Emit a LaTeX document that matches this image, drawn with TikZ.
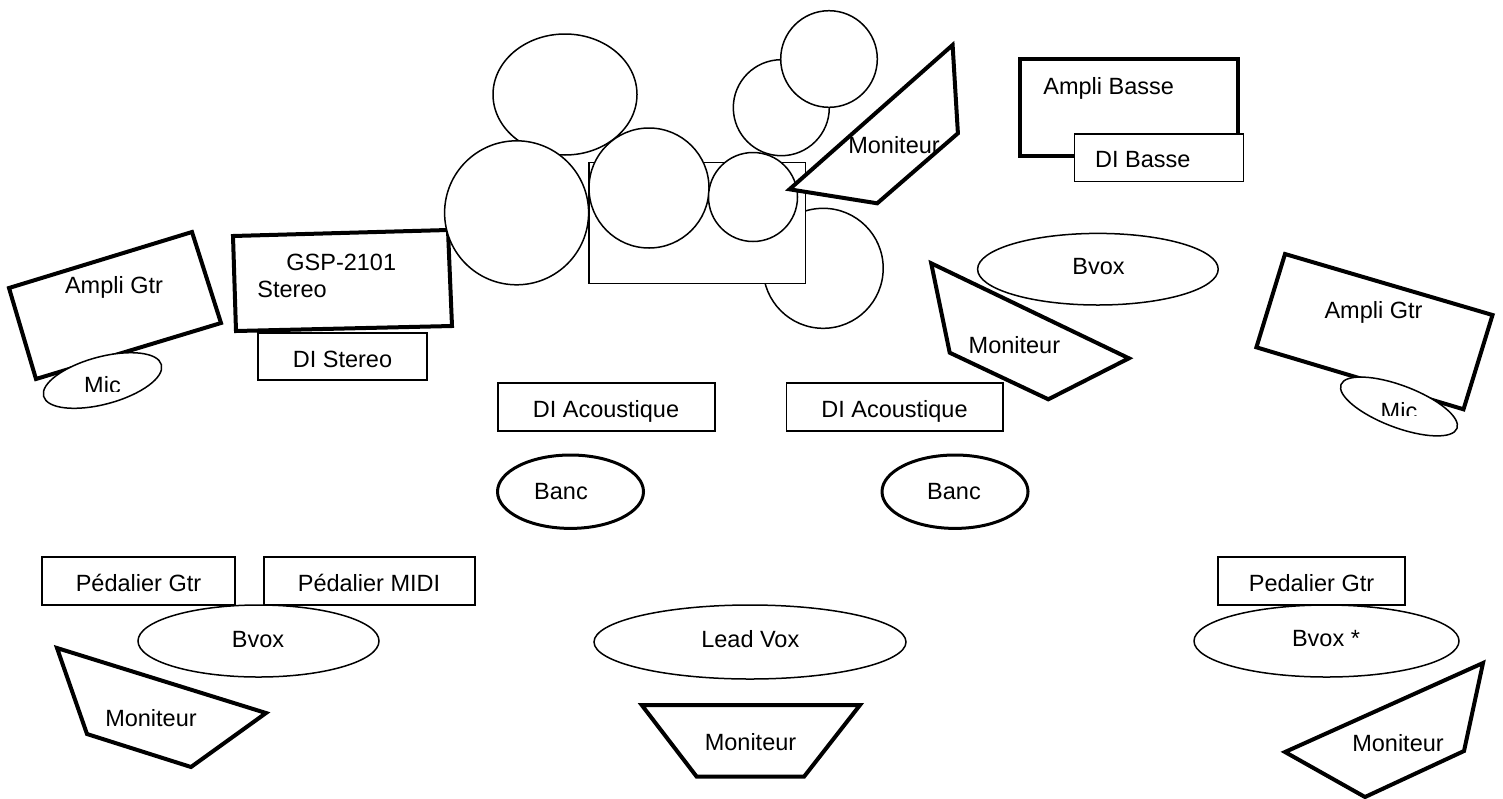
\documentclass[tikz,border=0pt]{standalone}
\usepackage{fontspec}
\setmainfont{Liberation Sans}
\begin{document}
\begin{tikzpicture}[x=0.5pt, y=-0.5pt,
  outline/.style={line width=0.75pt, fill=white},
  heavy/.style={line width=2pt, fill=white, line join=miter},
  lbl/.style={inner sep=0pt, anchor=base, font=\fontsize{11.75}{13.5}\selectfont}]
\useasboundingbox (0,0) rectangle (1503,798);
\coordinate (micL) at (102.5,380.5);
\coordinate (micR) at (1399,406.5);
\draw[heavy] (9,288) -- (192,232) -- (221,323) -- (36,379) -- cycle;
\node[lbl] (ampliL) at (114,293.5) {Ampli Gtr};
\draw[outline, rotate around={15:(micL)}] (micL) ellipse [x radius=61, y radius=23.7];
\begin{scope}
\clip (60,370) rectangle (150,391.7);
\node[lbl] (micLtext) at (102.5,393.5) {Mic};
\end{scope}
\draw[heavy] (233,236) -- (448,230) -- (452,326) -- (236,331) -- cycle;
\node[lbl, anchor=north west, align=left] (gsp) at (257,253.2) {\hspace*{14.5pt}GSP-2101\\Stereo};
\draw[outline] (258,333) rectangle (427,380);
\node[lbl] (distereo) at (342.5,367) {DI Stereo};
\draw[outline] (565,94.5) ellipse [x radius=72, y radius=60.5];
\draw[outline] (781.3,107.7) circle [radius=48];
\draw[outline] (829,59) circle [radius=48.3];
\draw[outline] (823.2,268.3) circle [radius=60];
\draw[outline] (589,162.7) rectangle (805.3,283.3);
\draw[outline] (516.6,212.8) circle [radius=72];
\draw[outline] (649,188) circle [radius=60];
\draw[outline] (753,197) circle [radius=44.5];
\draw[heavy] (952.6,45) -- (957.9,133.3) -- (877.2,203.3) -- (789.5,189.3) -- cycle;
\node[lbl] (montop) at (894,153.5) {Moniteur};
\draw[heavy] (1020.4,59.3) rectangle (1237.8,156);
\node[lbl, anchor=base west] (amplib) at (1043,94.5) {Ampli Basse};
\draw[outline] (1074.3,134) rectangle (1243.4,181.7);
\node[lbl, anchor=base west] (dibasse) at (1094.7,167) {DI Basse};
\draw[outline] (1097.9,269.2) ellipse [x radius=120.3, y radius=35.8];
\node[lbl] (bvoxB) at (1098.5,274.5) {Bvox};
\draw[heavy] (931.2,263.3) -- (1128.9,358.3) -- (1048.3,399.3) -- (949.7,352.7) -- cycle;
\node[lbl] (monB) at (1014.4,353.5) {Moniteur};
\draw[heavy] (1285,254) -- (1492.5,315) -- (1463.5,409.3) -- (1256.4,347.3) -- cycle;
\node[lbl] (ampliR) at (1373.5,318) {Ampli Gtr};
\draw[outline, rotate around={-20.7:(micR)}] (micR) ellipse [x radius=62, y radius=21];
\begin{scope}
\clip (1360,395) rectangle (1440,415.7);
\node[lbl] (micRtext) at (1399,419) {Mic};
\end{scope}
\draw[outline] (497.9,383) rectangle (715,431);
\node[lbl] (diac1) at (606,417) {DI Acoustique};
\draw[outline] (786.4,383) rectangle (1003.2,431);
\node[lbl] (diac2) at (894.5,417) {DI Acoustique};
\draw[outline, line width=1.5pt] (570.5,491.7) ellipse [x radius=73, y radius=36.7];
\node[lbl] (banc1) at (561,499) {Banc};
\draw[outline, line width=1.5pt] (955,491.7) ellipse [x radius=73, y radius=36.7];
\node[lbl] (banc2) at (954,499) {Banc};
\draw[outline] (42,557) rectangle (235,605);
\node[lbl] (pedgtr) at (138.5,591) {Pédalier Gtr};
\draw[outline] (264,557) rectangle (475,605);
\node[lbl] (pedmidi) at (369,591) {Pédalier MIDI};
\draw[outline] (258.5,641) ellipse [x radius=120.5, y radius=36];
\node[lbl] (bvoxL) at (258,647) {Bvox};
\draw[heavy] (57,648) -- (266,713) -- (191,767) -- (87,734) -- cycle;
\node[lbl] (monL) at (151,726) {Moniteur};
\draw[outline] (750,642) ellipse [x radius=156, y radius=37];
\node[lbl] (leadvox) at (750.3,647) {Lead Vox};
\draw[heavy] (641.7,705) -- (860,705) -- (804,776.7) -- (696.7,776.7) -- cycle;
\node[lbl] (monlead) at (750.5,750) {Moniteur};
\draw[outline] (1218,557) rectangle (1405,605);
\node[lbl] (pedgtrR) at (1311.5,591) {Pedalier Gtr};
\draw[outline] (1326.5,641) ellipse [x radius=132.5, y radius=36];
\node[lbl] (bvoxR) at (1326,646.5) {Bvox *};
\draw[heavy] (1483,663) -- (1464,751) -- (1365,797) -- (1285,752) -- cycle;
\node[lbl] (monR) at (1398,751) {Moniteur};
\end{tikzpicture}
\end{document}
